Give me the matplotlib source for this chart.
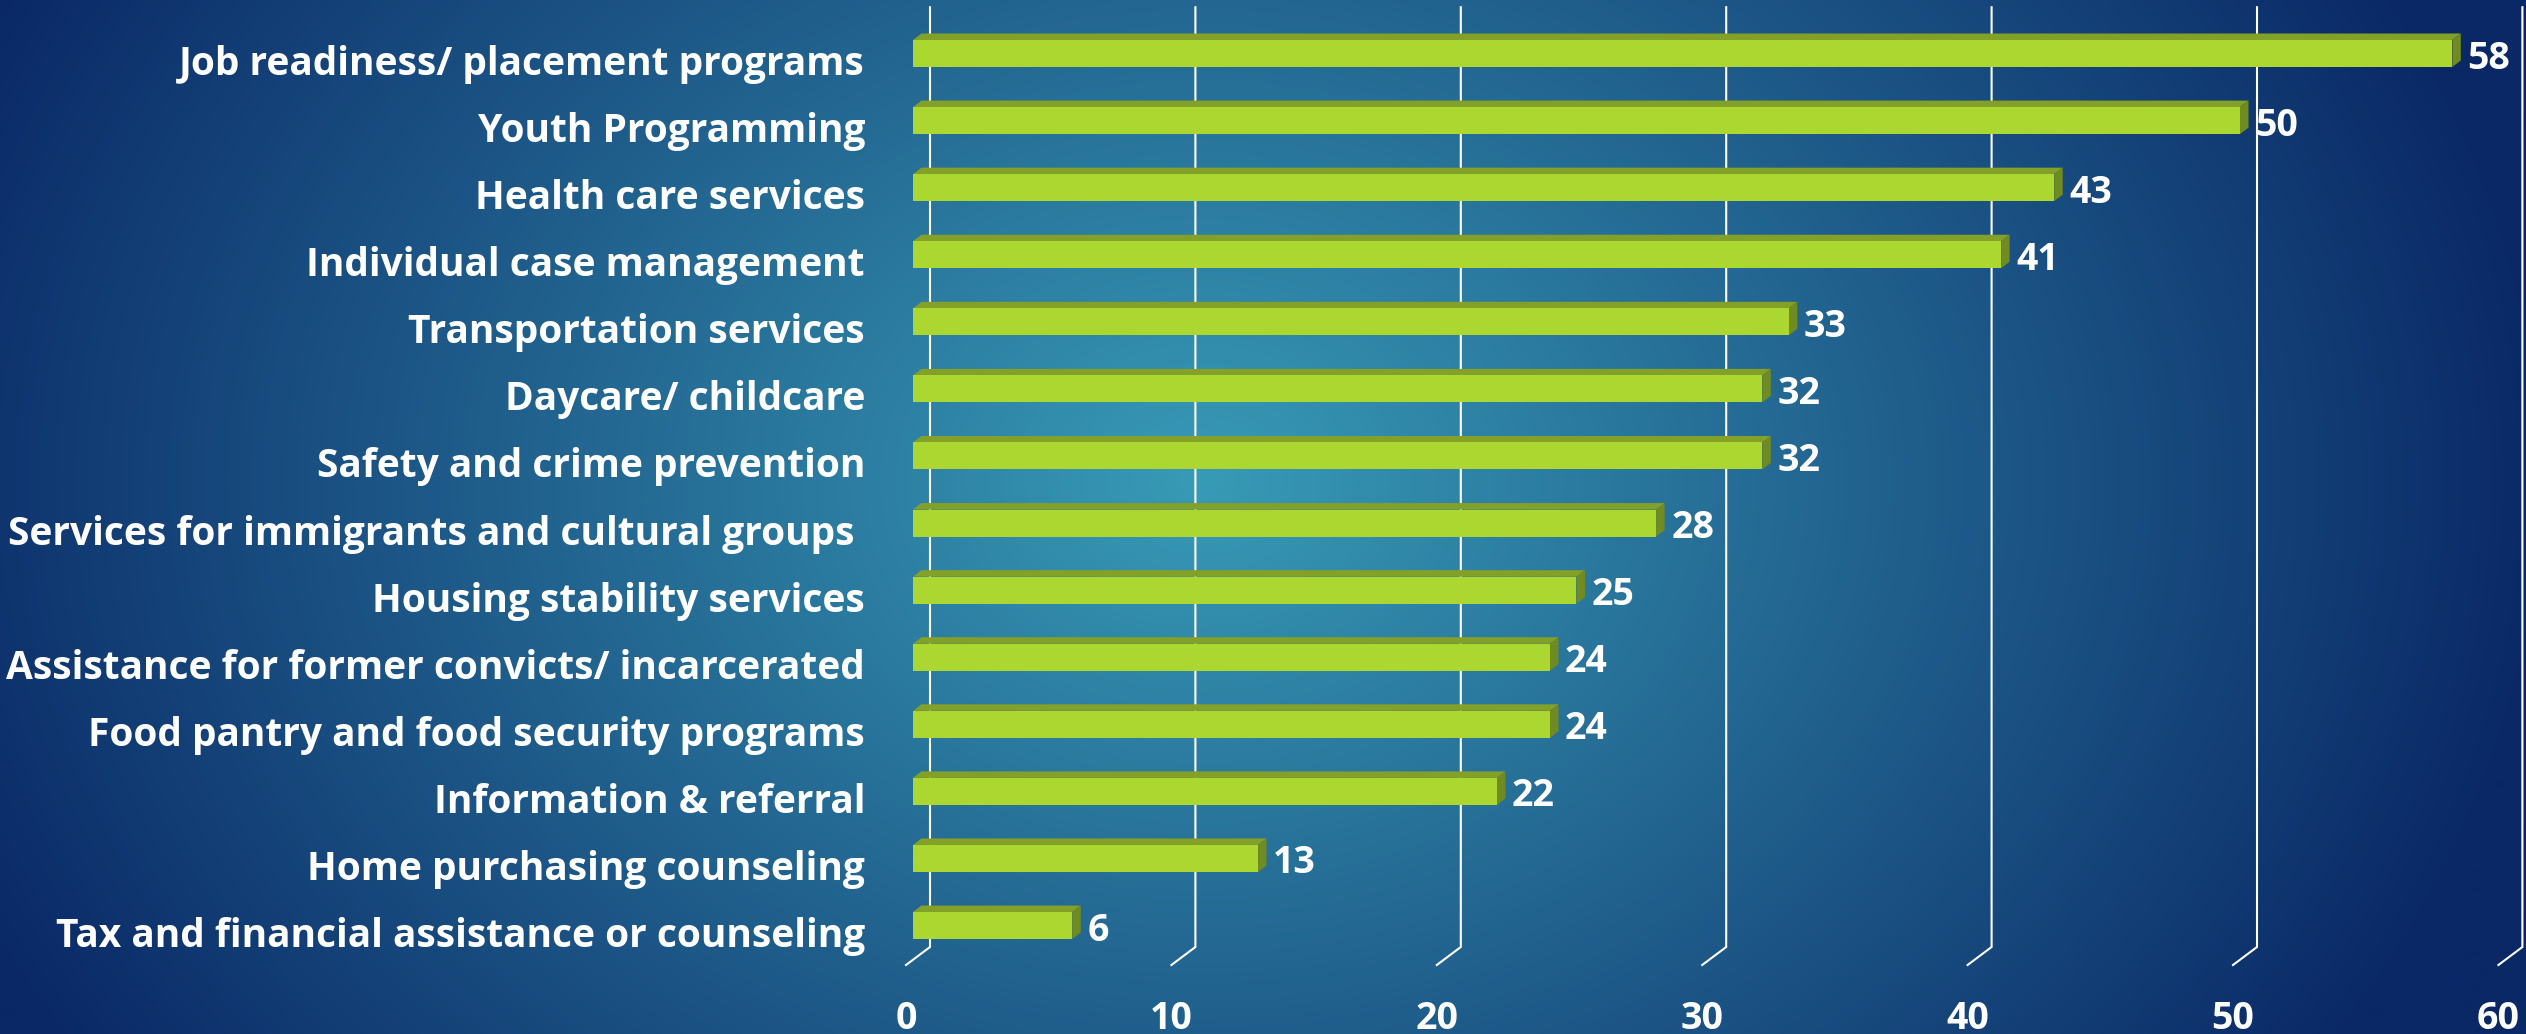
import numpy as np
import matplotlib
matplotlib.use("Agg")
import matplotlib.pyplot as plt
from matplotlib.patches import Rectangle, Polygon
from matplotlib.colors import to_rgb

# data, top bar first
categories = [
    "Job readiness/ placement programs",
    "Youth Programming",
    "Health care services",
    "Individual case management",
    "Transportation services",
    "Daycare/ childcare",
    "Safety and crime prevention",
    "Services for immigrants and cultural groups ",
    "Housing stability services",
    "Assistance for former convicts/ incarcerated",
    "Food pantry and food security programs",
    "Information & referral",
    "Home purchasing counseling",
    "Tax and financial assistance or counseling",
]
values = [58, 50, 43, 41, 33, 32, 32, 28, 25, 24, 24, 22, 13, 6]
x_ticks = [0, 10, 20, 30, 40, 50, 60]

plt.rcParams["font.family"] = ["Open Sans", "DejaVu Sans"]

W, H = 2526, 1034
fig = plt.figure(figsize=(W / 100, H / 100), dpi=100)

# background: radial teal -> navy glow
bg = fig.add_axes([0, 0, 1, 1], zorder=0)
yy, xx = np.mgrid[0:H:4, 0:W:4]
r = np.hypot((xx - 1200) / 1350.0, (yy - 480) / 1050.0)
f = np.clip(r, 0, 1)[..., None]
center = np.array(to_rgb("#389bb6"))
edge = np.array(to_rgb("#0a2866"))
bg.imshow((1 - f) * center + f * edge, extent=(0, W, H, 0),
          aspect="auto", interpolation="bilinear")
bg.axis("off")

# plot area (pixel scale of the front plane)
PX_X = 26.54   # px per unit
PX_Y = 67.08   # px per row
X0, Y0 = 913, 53.5
YTOP, YBOT = -0.7, 13.6
ax = fig.add_axes([X0 / W, 1 - (Y0 + YBOT * PX_Y) / H,
                   60 * PX_X / W, (YBOT - YTOP) * PX_Y / H], zorder=1)
ax.set_xlim(0, 60)
ax.set_ylim(YBOT, YTOP)
ax.patch.set_alpha(0)
ax.axis("off")

BH = 27 / PX_Y                         # bar thickness
DX, DY = 8.5 / PX_X, 6.5 / PX_Y        # bar depth
GX = 17 / PX_X                         # back wall shift
FX, FY = 24 / PX_X, 18 / PX_Y          # floor depth
floor_back = 13.32
grid_top = -0.69

for t in x_ticks:
    ax.plot([t + GX, t + GX, t + GX - FX],
            [grid_top, floor_back, floor_back + FY],
            color="white", lw=1.5, clip_on=False, zorder=1,
            solid_joinstyle="miter")
    ax.text(t + GX - FX, 14.54, str(t), ha="center", va="baseline",
            color="white", fontsize=27, fontweight="bold", clip_on=False)

FRONT = "#acd630"
TOP = "#83a028"
SIDE = "#6f8b22"

for i, (cat, v) in enumerate(zip(categories, values)):
    yt, yb = i - BH / 2, i + BH / 2
    ax.add_patch(Polygon([(0, yt), (v, yt), (v + DX, yt - DY), (DX, yt - DY)],
                         closed=True, facecolor=TOP, edgecolor="none",
                         zorder=3, clip_on=False))
    ax.add_patch(Polygon([(v, yt), (v + DX, yt - DY), (v + DX, yb - DY), (v, yb)],
                         closed=True, facecolor=SIDE, edgecolor="none",
                         zorder=3, clip_on=False))
    ax.add_patch(Rectangle((0, yt), v, BH, facecolor=FRONT, edgecolor="none",
                           zorder=4, clip_on=False))
    ax.annotate(str(v), xy=(v, i), xytext=(15, -15), textcoords="offset pixels",
                ha="left", va="baseline", color="white", fontsize=27,
                fontweight="bold", annotation_clip=False)
    ax.annotate(cat, xy=(0, i), xytext=(-48, -21.5), textcoords="offset pixels",
                ha="right", va="baseline", color="white", fontsize=28,
                fontweight="bold", annotation_clip=False)

fig.savefig("out.png", dpi=100)
